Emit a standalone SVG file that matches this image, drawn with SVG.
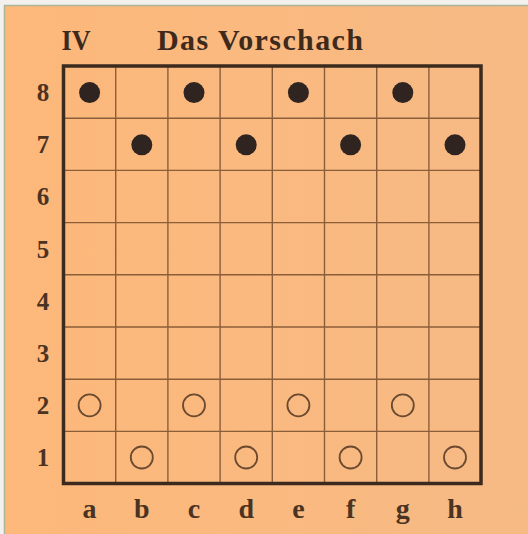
<svg xmlns="http://www.w3.org/2000/svg" width="528" height="534" viewBox="0 0 528 534">
  <defs>
    <linearGradient id="paper" x1="0" y1="0" x2="1" y2="0">
      <stop offset="0" stop-color="#FDB87A"/>
      <stop offset="1" stop-color="#F6BA85"/>
    </linearGradient>
    <style>
      .lbl { font-family: "Liberation Serif", "DejaVu Serif", serif; font-weight: bold; fill: #4a3322; text-anchor: middle; }
      .rank { font-size: 25px; }
      .file { font-size: 28px; }
      .title { font-size: 30px; fill: #3e2a1c; }
      .grid { stroke: #8b5e3a; stroke-width: 1.4; fill: none; }
      .frame { stroke: #3b2a1d; stroke-width: 3.5; fill: none; }
      .black { fill: #2f2420; }
      .white { fill: none; stroke: #6b4a30; stroke-width: 1.8; }
    </style>
  </defs>
  <rect x="0" y="0" width="528" height="534" fill="#f2f1ee"/>
  <rect x="4.5" y="5.5" width="530" height="540" fill="url(#paper)" stroke="#aab59a" stroke-width="1.5"/>

  <g id="title">
    <text class="lbl title" x="76" y="50" textLength="29" lengthAdjust="spacingAndGlyphs">IV</text>
    <text class="lbl title" x="260" y="50" textLength="206" lengthAdjust="spacing">Das Vorschach</text>
  </g>

  <g id="board">
    <g class="grid">
      <line x1="115.7" y1="66" x2="115.7" y2="483.5"/>
      <line x1="167.9" y1="66" x2="167.9" y2="483.5"/>
      <line x1="220.1" y1="66" x2="220.1" y2="483.5"/>
      <line x1="272.3" y1="66" x2="272.3" y2="483.5"/>
      <line x1="324.5" y1="66" x2="324.5" y2="483.5"/>
      <line x1="376.7" y1="66" x2="376.7" y2="483.5"/>
      <line x1="428.9" y1="66" x2="428.9" y2="483.5"/>
      <line x1="63.5" y1="118.2" x2="481" y2="118.2"/>
      <line x1="63.5" y1="170.4" x2="481" y2="170.4"/>
      <line x1="63.5" y1="222.6" x2="481" y2="222.6"/>
      <line x1="63.5" y1="274.8" x2="481" y2="274.8"/>
      <line x1="63.5" y1="327" x2="481" y2="327"/>
      <line x1="63.5" y1="379.2" x2="481" y2="379.2"/>
      <line x1="63.5" y1="431.4" x2="481" y2="431.4"/>
    </g>
    <rect class="frame" x="63.5" y="66" width="417.5" height="417.5"/>
  </g>

  <g id="ranks">
    <text class="lbl rank" x="43" y="101">8</text>
    <text class="lbl rank" x="43" y="153.2">7</text>
    <text class="lbl rank" x="43" y="205.4">6</text>
    <text class="lbl rank" x="43" y="257.6">5</text>
    <text class="lbl rank" x="43" y="309.8">4</text>
    <text class="lbl rank" x="43" y="362">3</text>
    <text class="lbl rank" x="43" y="414.2">2</text>
    <text class="lbl rank" x="43" y="466.4">1</text>
  </g>

  <g id="files">
    <text class="lbl file" x="89.6" y="518">a</text>
    <text class="lbl file" x="141.8" y="518">b</text>
    <text class="lbl file" x="194" y="518">c</text>
    <text class="lbl file" x="246.2" y="518">d</text>
    <text class="lbl file" x="298.4" y="518">e</text>
    <text class="lbl file" x="350.6" y="518">f</text>
    <text class="lbl file" x="402.8" y="518">g</text>
    <text class="lbl file" x="455" y="518">h</text>
  </g>

  <g id="black-pieces">
    <circle class="black" cx="89.6" cy="92.6" r="10.5"/>
    <circle class="black" cx="194" cy="92.6" r="10.5"/>
    <circle class="black" cx="298.4" cy="92.6" r="10.5"/>
    <circle class="black" cx="402.8" cy="92.6" r="10.5"/>
    <circle class="black" cx="141.8" cy="144.8" r="10.5"/>
    <circle class="black" cx="246.2" cy="144.8" r="10.5"/>
    <circle class="black" cx="350.6" cy="144.8" r="10.5"/>
    <circle class="black" cx="455" cy="144.8" r="10.5"/>
  </g>

  <g id="white-pieces">
    <circle class="white" cx="89.6" cy="405.3" r="11"/>
    <circle class="white" cx="194" cy="405.3" r="11"/>
    <circle class="white" cx="298.4" cy="405.3" r="11"/>
    <circle class="white" cx="402.8" cy="405.3" r="11"/>
    <circle class="white" cx="141.8" cy="457.5" r="11"/>
    <circle class="white" cx="246.2" cy="457.5" r="11"/>
    <circle class="white" cx="350.6" cy="457.5" r="11"/>
    <circle class="white" cx="455" cy="457.5" r="11"/>
  </g>
</svg>
